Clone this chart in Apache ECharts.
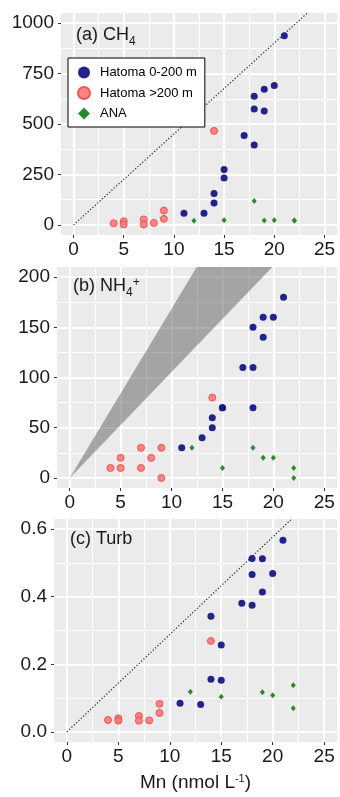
<!DOCTYPE html>
<html>
<head>
<meta charset="utf-8">
<script src="https://cdn.jsdelivr.net/npm/echarts@6/dist/echarts.min.js"></script>
<style>
html,body{margin:0;padding:0;background:#fff}
#chart{width:340px;height:797px}
</style>
</head>
<body>
<div id="chart"></div>
<script>
// Mn (x) for each group
const mnBlue = [11, 13, 14, 14, 15, 15, 17, 18, 18, 18, 19, 19, 20, 21]
const mnRed = [4, 5, 5, 7, 7, 8, 9, 9, 14]
const mnAna = [12, 15, 18, 19, 20, 22, 22]

// (a) CH4
const ch4Blue = [58, 58, 108, 156, 232, 274, 443, 396, 574, 638, 564, 672, 691, 937]
const ch4Red = [8, 18, 2, 27, 2, 10, 30, 71, 466]
const ch4Ana = [20, 23, 118, 22, 23, 22, 22]

// (b) NH4+
const nh4Blue = [30, 40, 50, 60, 70, 70, 110, 70, 110, 150, 140, 160, 160, 180]
const nh4Red = [10, 20, 10, 30, 10, 20, 30, 0, 80]
const nh4Ana = [30, 10, 30, 20, 20, 10, 0]

// (c) Turb
const turbBlue = [0.085, 0.081, 0.156, 0.342, 0.153, 0.257, 0.381, 0.375, 0.466, 0.513, 0.414, 0.512, 0.469, 0.567]
const turbRed = [0.035, 0.040, 0.033, 0.047, 0.033, 0.034, 0.056, 0.083, 0.269]
const turbAna = [0.119, 0.104, null, 0.117, 0.108, 0.138, 0.070]

// reference lines / wedge
const ch4Line = [[0, 0], [23.3, 1050]]
const nh4Wedge = [[0, 0], [12.47, 210], [19.9, 210]]
const turbLine = [[0, 0], [21.85, 0.63]]

// ticks
const xTicks = [0, 5, 10, 15, 20, 25]
const xMinor = [2.5, 7.5, 12.5, 17.5, 22.5]
const ch4Ticks = [0, 250, 500, 750, 1000]
const ch4Minor = [125, 375, 625, 875]
const nh4Ticks = [0, 50, 100, 150, 200]
const nh4Minor = [25, 75, 125, 175]
const turbTicks = [0, 0.2, 0.4, 0.6]
const turbMinor = [0.1, 0.3, 0.5]

const font = '"Liberation Sans", Arial, sans-serif'
const ink = '#1a1a1a'
const names = ['Hatoma 0-200 m', 'Hatoma >200 m', 'ANA']

const zip = (xs, ys) => xs.map((x, i) => [x, ys[i]]).filter(p => p[1] != null)

const panels = [
    {grid: {left: 61, top: 13, width: 276, height: 222}, y: [-50, 1050], ticks: ch4Ticks, minor: ch4Minor,
        fmt: v => String(v), blue: ch4Blue, red: ch4Red, ana: ch4Ana},
    {grid: {left: 57, top: 267, width: 280, height: 221}, y: [-10, 210], ticks: nh4Ticks, minor: nh4Minor,
        fmt: v => String(v), blue: nh4Blue, red: nh4Red, ana: nh4Ana},
    {grid: {left: 54, top: 519, width: 283, height: 223}, y: [-0.03, 0.63], ticks: turbTicks, minor: turbMinor,
        fmt: v => v.toFixed(1), blue: turbBlue, red: turbRed, ana: turbAna}
]

const rich = {
    m: {fontSize: 18, fontWeight: 'normal', fontFamily: font, color: ink, verticalAlign: 'bottom', padding: [0, 0, 4, 0]},
    sub: {fontSize: 12, fontWeight: 'normal', fontFamily: font, color: ink, verticalAlign: 'bottom'},
    sup: {fontSize: 12, fontWeight: 'normal', fontFamily: font, color: ink, verticalAlign: 'top'}
}

const series = []
panels.forEach((p, i) => {
    series.push({
        type: 'line', xAxisIndex: i, yAxisIndex: i, data: [], z: 1, silent: true,
        markLine: {
            z: 1, silent: true, symbol: 'none', animation: false, label: {show: false},
            lineStyle: {color: '#fff', type: 'solid', width: 1},
            emphasis: {disabled: true},
            data: [
                ...xMinor.map(v => ({xAxis: v, lineStyle: {width: 1}})),
                ...p.minor.map(v => ({yAxis: v, lineStyle: {width: 1}})),
                ...xTicks.map(v => ({xAxis: v, lineStyle: {width: 2}})),
                ...p.ticks.map(v => ({yAxis: v, lineStyle: {width: 2}}))
            ]
        }
    })
    series.push({
        name: names[0], type: 'scatter', xAxisIndex: i, yAxisIndex: i, z: 10,
        data: zip(mnBlue, p.blue), symbol: 'circle', symbolSize: 7,
        itemStyle: {color: '#17178a', opacity: 0.95}
    })
    series.push({
        name: names[1], type: 'scatter', xAxisIndex: i, yAxisIndex: i, z: 10,
        data: zip(mnRed, p.red), symbol: 'circle', symbolSize: 7,
        itemStyle: {color: '#ff7878', borderColor: '#f24a4a', borderWidth: 1, opacity: 0.9}
    })
    series.push({
        name: names[2], type: 'scatter', xAxisIndex: i, yAxisIndex: i, z: 10,
        data: zip(mnAna, p.ana), symbol: 'diamond', symbolSize: [5, 6],
        itemStyle: {color: '#2a8a2a', opacity: 1}
    })
})

series.push({
    type: 'line', xAxisIndex: 0, yAxisIndex: 0, data: ch4Line, symbol: 'none', z: 5, silent: true,
    lineStyle: {color: '#222', width: 1.2, type: [1.2, 2]}
})
series.push({
    type: 'line', xAxisIndex: 2, yAxisIndex: 2, data: turbLine, symbol: 'none', z: 5, silent: true,
    lineStyle: {color: '#222', width: 1.2, type: [1.2, 2]}
})
series.push({
    type: 'custom', xAxisIndex: 1, yAxisIndex: 1, data: [nh4Wedge[0]], z: 5, silent: true,
    renderItem: (params, api) => ({
        type: 'polygon',
        shape: {points: nh4Wedge.map(pt => api.coord(pt))},
        style: {fill: 'rgba(105,105,105,0.55)'}
    })
})

const chart = echarts.init(document.getElementById('chart'))
chart.setOption({
    animation: false,
    textStyle: {fontFamily: font},
    title: [
        {text: '{m|(a) CH}{sub|4}', left: 76, top: 26, padding: 0, textStyle: {fontWeight: 'normal', rich}},
        {text: '{m|(b) NH}{sub|4}{sup|+}', left: 73, top: 277, padding: 0, textStyle: {fontWeight: 'normal', rich}},
        {text: '{m|(c) Turb}', left: 70, top: 530, padding: 0, textStyle: {fontWeight: 'normal', rich}}
    ],
    legend: {
        data: names, left: 68, top: 58, orient: 'vertical', z: 20,
        padding: [8, 8, 7, 9], itemGap: 7, itemWidth: 12, itemHeight: 12,
        backgroundColor: '#fff', borderColor: '#000', borderWidth: 1, borderRadius: 0,
        textStyle: {fontSize: 13, color: '#000', fontFamily: font, padding: [0, 0, 0, 5]}
    },
    grid: panels.map(p => ({...p.grid, show: true, backgroundColor: '#EBEBEB', borderWidth: 0})),
    xAxis: panels.map((p, i) => ({
        type: 'value', gridIndex: i, min: -1.25, max: 26.25,
        axisLine: {show: false, onZero: false},
        axisTick: {show: true, customValues: xTicks, length: 3, lineStyle: {color: '#333'}},
        axisLabel: {customValues: xTicks, fontSize: 19, color: ink, margin: 5, fontFamily: font},
        splitLine: {show: false},
        ...(i === 2 ? {
            name: '{m|Mn (nmol L}{sup|-1}{m|)}', nameLocation: 'middle', nameGap: 31,
            nameTextStyle: {rich: {
                m: {fontSize: 19, fontFamily: font, color: ink, verticalAlign: 'bottom'},
                sup: {fontSize: 11, fontFamily: font, color: ink, verticalAlign: 'top'}
            }}
        } : {})
    })),
    yAxis: panels.map((p, i) => ({
        type: 'value', gridIndex: i, min: p.y[0], max: p.y[1],
        axisLine: {show: false, onZero: false},
        axisTick: {show: true, customValues: p.ticks, length: 3, lineStyle: {color: '#333'}},
        axisLabel: {customValues: p.ticks, fontSize: 19, color: ink, margin: 7, fontFamily: font, formatter: p.fmt},
        splitLine: {show: false}
    })),
    series
})
</script>
</body>
</html>
